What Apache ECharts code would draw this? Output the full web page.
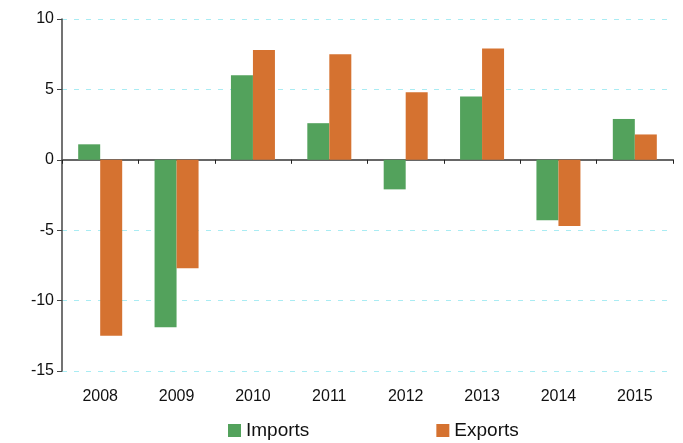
<!DOCTYPE html>
<html>
<head>
<meta charset="utf-8">
<script src="https://cdn.jsdelivr.net/npm/echarts@6/dist/echarts.min.js"></script>
<style>
  html, body { margin: 0; padding: 0; background: #fff; }
  #chart { width: 683px; height: 443px; }
</style>
</head>
<body>
<div id="chart"></div>
<script>
  // data
  const years = ['2008', '2009', '2010', '2011', '2012', '2013', '2014', '2015']
  const imports = [1.1, -11.9, 6.0, 2.6, -2.1, 4.5, -4.3, 2.9]
  const exports = [-12.5, -7.7, 7.8, 7.5, 4.8, 7.9, -4.7, 1.8]

  const font = '"Liberation Sans", Arial, Helvetica, sans-serif'
  let myChart = echarts.init(document.getElementById('chart'))

  let option = {
    animation: false,
    textStyle: { fontFamily: font },
    grid: { left: 62, right: 10, top: 19, bottom: 72, containLabel: false },
    legend: {
      left: 228,
      top: 421,
      padding: 0,
      itemWidth: 13,
      itemHeight: 13,
      itemGap: 127,
      icon: 'rect',
      textStyle: { fontSize: 19, color: '#111', fontFamily: font },
      data: ['Imports', 'Exports']
    },
    xAxis: [
      {
        // zero line with category ticks
        type: 'category',
        data: years,
        axisLine: { onZero: true, lineStyle: { color: '#666', width: 2 } },
        axisTick: { show: true, length: 4, lineStyle: { color: '#222' } },
        axisLabel: { show: false },
        splitLine: { show: false }
      },
      {
        // labels at the bottom
        type: 'category',
        data: years,
        position: 'bottom',
        axisLine: { show: false, onZero: false },
        axisTick: { show: false },
        axisLabel: { color: '#111', fontSize: 16, margin: 18, fontFamily: font }
      }
    ],
    yAxis: {
      type: 'value',
      min: -15,
      max: 10,
      interval: 5,
      axisLine: { show: true, lineStyle: { color: '#444', width: 1.5 } },
      axisTick: { show: true, length: 5, lineStyle: { color: '#444' } },
      axisLabel: { color: '#111', fontSize: 16, margin: 8, fontFamily: font },
      splitLine: { lineStyle: { color: '#a9ecf3', type: [5, 7], width: 1 } }
    },
    series: [
      {
        name: 'Imports',
        type: 'bar',
        data: imports,
        barWidth: 22,
        barGap: '0%',
        itemStyle: { color: '#53a25c' }
      },
      {
        name: 'Exports',
        type: 'bar',
        data: exports,
        barWidth: 22,
        barGap: '0%',
        itemStyle: { color: '#d57230' }
      }
    ]
  }
  myChart.setOption(option)
</script>
</body>
</html>
